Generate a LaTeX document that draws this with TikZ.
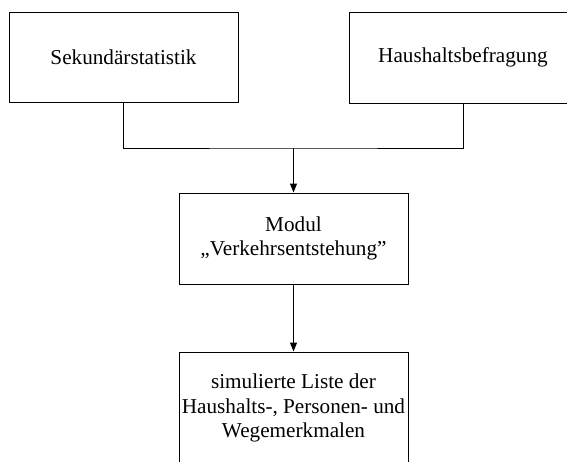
\documentclass[tikz,border=0pt]{standalone}
\usepackage{fontspec}
\setmainfont{Liberation Serif}
\usepackage{tikz}
\usetikzlibrary{arrows.meta}

\begin{document}
\begin{tikzpicture}[>={Triangle[length=9pt, width=7pt]}, x=1pt, y=-1pt, line width=1pt]
                \tikzset{box/.style={draw, rectangle, align=center, inner sep=1pt, font=\fontsize{21.2}{24.5}\selectfont}};
                \useasboundingbox (0, 0) rectangle (567, 461);
                \clip (0, 0) rectangle (567, 461);
                \node[box, minimum width=229pt, minimum height=90pt] (sek) at (123.5, 57) {Sekundärstatistik};
                \node[box, minimum width=227pt, minimum height=91pt] (hh) at (463, 57.5) {Haushaltsbefragung};
                \node[box, minimum width=229pt, minimum height=91pt] (modul) at (293.5, 238.5) {Modul\\„Verkehrsentstehung”};
                \node[box, minimum width=229pt, minimum height=112pt] (liste) at (293.5, 408) {simulierte Liste der\\Haushalts-, Personen- und\\Wegemerkmalen};
                \coordinate (join) at (293.5, 148);
                \draw (sek.south) |- (join) -| (hh.south);
                \draw[->] (join) -- (modul);
                \draw[->] (modul) -- (liste);
            \end{tikzpicture}
\end{document}
